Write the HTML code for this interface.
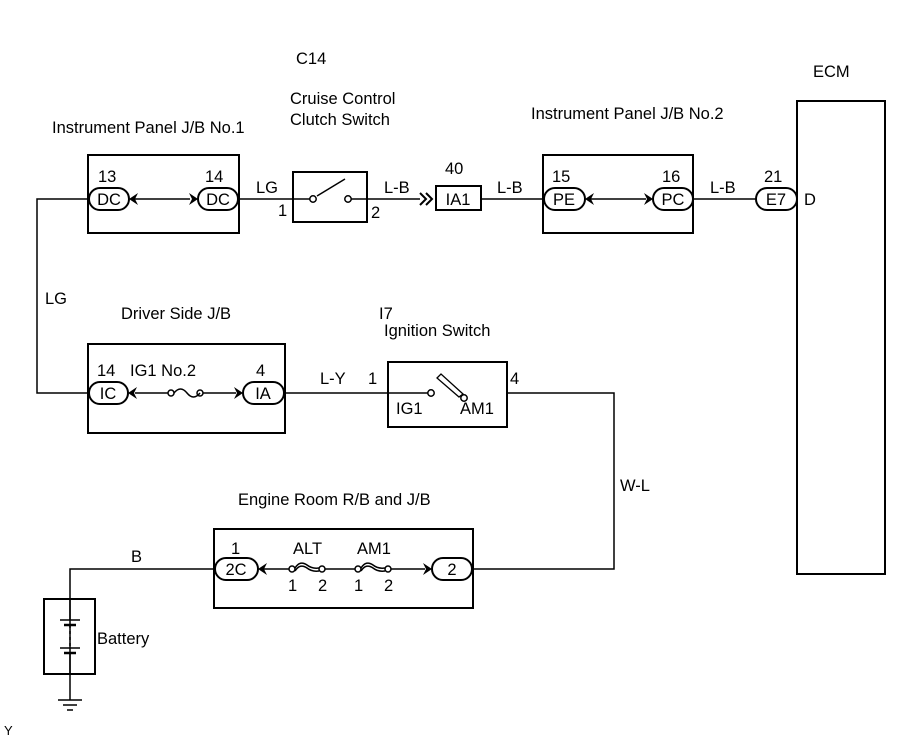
<!DOCTYPE html>
<html><head><style>
html,body{margin:0;padding:0;background:#fff;}
svg{display:block;}
text{font-family:"Liberation Sans",Arial,sans-serif;font-size:16.5px;fill:#000;}
.c{text-anchor:middle;}
</style></head><body>
<svg width="907" height="739" viewBox="0 0 907 739" xmlns="http://www.w3.org/2000/svg">
<g fill="none" stroke="#000" stroke-width="1.5">
<rect x="88" y="155" width="151" height="78" stroke-width="2"/>
<rect x="293" y="172" width="74" height="50" stroke-width="2"/>
<rect x="436" y="186" width="45" height="24" stroke-width="2"/>
<rect x="543" y="155" width="150" height="78" stroke-width="2"/>
<rect x="797" y="101" width="88" height="473" stroke-width="2"/>
<rect x="88" y="344" width="197" height="89" stroke-width="2"/>
<rect x="388" y="362" width="119" height="65" stroke-width="2"/>
<rect x="214" y="529" width="259" height="79" stroke-width="2"/>
<rect x="44" y="599" width="51" height="75" stroke-width="2"/>
<polyline points="88,199 37,199 37,393 88,393"/>
<line x1="239" y1="199" x2="293" y2="199"/>
<line x1="367" y1="199" x2="420" y2="199"/>
<line x1="481" y1="199" x2="543" y2="199"/>
<line x1="693" y1="199" x2="756" y2="199"/>
<line x1="285" y1="393" x2="388" y2="393"/>
<polyline points="507,393 614,393 614,569 473,569"/>
<polyline points="214,569 70,569 70,700"/>
<line x1="135" y1="199" x2="190" y2="199"/>
<line x1="591" y1="199" x2="646" y2="199"/>
<line x1="135" y1="393" x2="168" y2="393"/>
<line x1="202" y1="393" x2="236" y2="393"/>
<line x1="264" y1="569" x2="290" y2="569"/>
<line x1="325" y1="569" x2="355" y2="569"/>
<line x1="390" y1="569" x2="425" y2="569"/>
<line x1="293" y1="199" x2="310" y2="199"/>
<line x1="350" y1="199" x2="367" y2="199"/>
<line x1="317" y1="196" x2="345" y2="179"/>
<circle cx="313" cy="199" r="3.2" fill="#fff"/>
<circle cx="348" cy="199" r="3.2" fill="#fff"/>
<line x1="388" y1="393" x2="428" y2="393"/>
<path d="M437,378 l4,-4 l22,20 l-4,3 z" stroke-width="1.3"/>
<circle cx="431" cy="393" r="3.2" fill="#fff"/>
<circle cx="464" cy="398" r="3.2" fill="#fff"/>
<polyline points="420,193 426,199 420,205" stroke-width="2"/>
<polyline points="426,193 432,199 426,205" stroke-width="2"/>
<circle cx="171" cy="393" r="3" fill="#fff"/>
<circle cx="200" cy="393" r="3" fill="#fff"/>
<path d="M174,393 q6.5,-8 13,0 q6.5,8 13,0"/>
<circle cx="292" cy="569" r="3" fill="#fff"/>
<circle cx="322" cy="569" r="3" fill="#fff"/>
<path d="M295,568 q5,-8 12,-3 q5,4 12,3"/><path d="M295,571 q5,-8 12,-3 q5,4 12,3"/>
<circle cx="358" cy="569" r="3" fill="#fff"/>
<circle cx="388" cy="569" r="3" fill="#fff"/>
<path d="M361,568 q5,-8 12,-3 q5,4 12,3"/><path d="M361,571 q5,-8 12,-3 q5,4 12,3"/>
<g stroke-width="2">
<rect x="89" y="188" width="40" height="22" rx="11"/>
<rect x="198" y="188" width="40" height="22" rx="11"/>
<rect x="544" y="188" width="41" height="22" rx="11"/>
<rect x="653" y="188" width="40" height="22" rx="11"/>
<rect x="756" y="188" width="41" height="22" rx="11"/>
<rect x="89" y="382" width="39" height="22" rx="11"/>
<rect x="243" y="382" width="41" height="22" rx="11"/>
<rect x="215" y="558" width="43" height="22" rx="11"/>
<rect x="432" y="558" width="40" height="22" rx="11"/>
</g>
<line x1="70" y1="599" x2="70" y2="620"/>
<line x1="60" y1="620" x2="80" y2="620"/>
<line x1="64" y1="625" x2="76" y2="625" stroke-width="2.5"/>
<line x1="70" y1="625" x2="70" y2="648" stroke-dasharray="3,3"/>
<line x1="60" y1="648" x2="80" y2="648"/>
<line x1="64" y1="653" x2="76" y2="653" stroke-width="2.5"/>
<line x1="70" y1="653" x2="70" y2="674"/>
<line x1="58" y1="700" x2="82" y2="700"/>
<line x1="63" y1="705" x2="77" y2="705"/>
<line x1="67" y1="710" x2="73" y2="710"/>
</g>
<g fill="#000">
<path d="M129,199 l9,-6 l-3,6 l3,6 z"/>
<path d="M198,199 l-9,-6 l3,6 l-3,6 z"/>
<path d="M585,199 l9,-6 l-3,6 l3,6 z"/>
<path d="M653,199 l-9,-6 l3,6 l-3,6 z"/>
<path d="M128,393 l9,-6 l-3,6 l3,6 z"/>
<path d="M243,393 l-9,-6 l3,6 l-3,6 z"/>
<path d="M258,569 l9,-6 l-3,6 l3,6 z"/>
<path d="M432,569 l-9,-6 l3,6 l-3,6 z"/>
</g>
<text x="296" y="64">C14</text>
<text x="813" y="77">ECM</text>
<text x="290" y="104">Cruise Control</text>
<text x="290" y="125">Clutch Switch</text>
<text x="52" y="133">Instrument Panel J/B No.1</text>
<text x="531" y="119">Instrument Panel J/B No.2</text>
<text x="98" y="182">13</text><text x="205" y="182">14</text>
<text class="c" x="109" y="205">DC</text><text class="c" x="218" y="205">DC</text>
<text x="256" y="193">LG</text><text x="278" y="216">1</text>
<text x="384" y="193">L-B</text><text x="371" y="218">2</text>
<text x="445" y="174">40</text><text class="c" x="458" y="205">IA1</text>
<text x="497" y="193">L-B</text>
<text x="552" y="182">15</text><text x="662" y="182">16</text>
<text class="c" x="564" y="205">PE</text><text class="c" x="673" y="205">PC</text>
<text x="710" y="193">L-B</text>
<text x="764" y="182">21</text><text class="c" x="776" y="205">E7</text>
<text x="804" y="205">D</text>
<text x="45" y="304">LG</text>
<text x="121" y="319">Driver Side J/B</text>
<text x="379" y="319">I7</text>
<text x="384" y="336">Ignition Switch</text>
<text x="97" y="376">14</text><text x="130" y="376">IG1 No.2</text><text x="256" y="376">4</text>
<text class="c" x="108" y="399">IC</text><text class="c" x="263" y="399">IA</text>
<text x="320" y="384">L-Y</text><text x="368" y="384">1</text>
<text x="510" y="384">4</text>
<text x="396" y="414">IG1</text><text x="460" y="414">AM1</text>
<text x="620" y="491">W-L</text>
<text x="238" y="505">Engine Room R/B and J/B</text>
<text x="231" y="554">1</text><text x="293" y="554">ALT</text><text x="357" y="554">AM1</text>
<text class="c" x="236" y="575">2C</text><text class="c" x="452" y="575">2</text>
<text x="288" y="591">1</text><text x="318" y="591">2</text>
<text x="354" y="591">1</text><text x="384" y="591">2</text>
<text x="131" y="562">B</text>
<text x="97" y="644">Battery</text>
<text x="4" y="735" style="font-size:13px">Y</text>
</svg>
</body></html>
